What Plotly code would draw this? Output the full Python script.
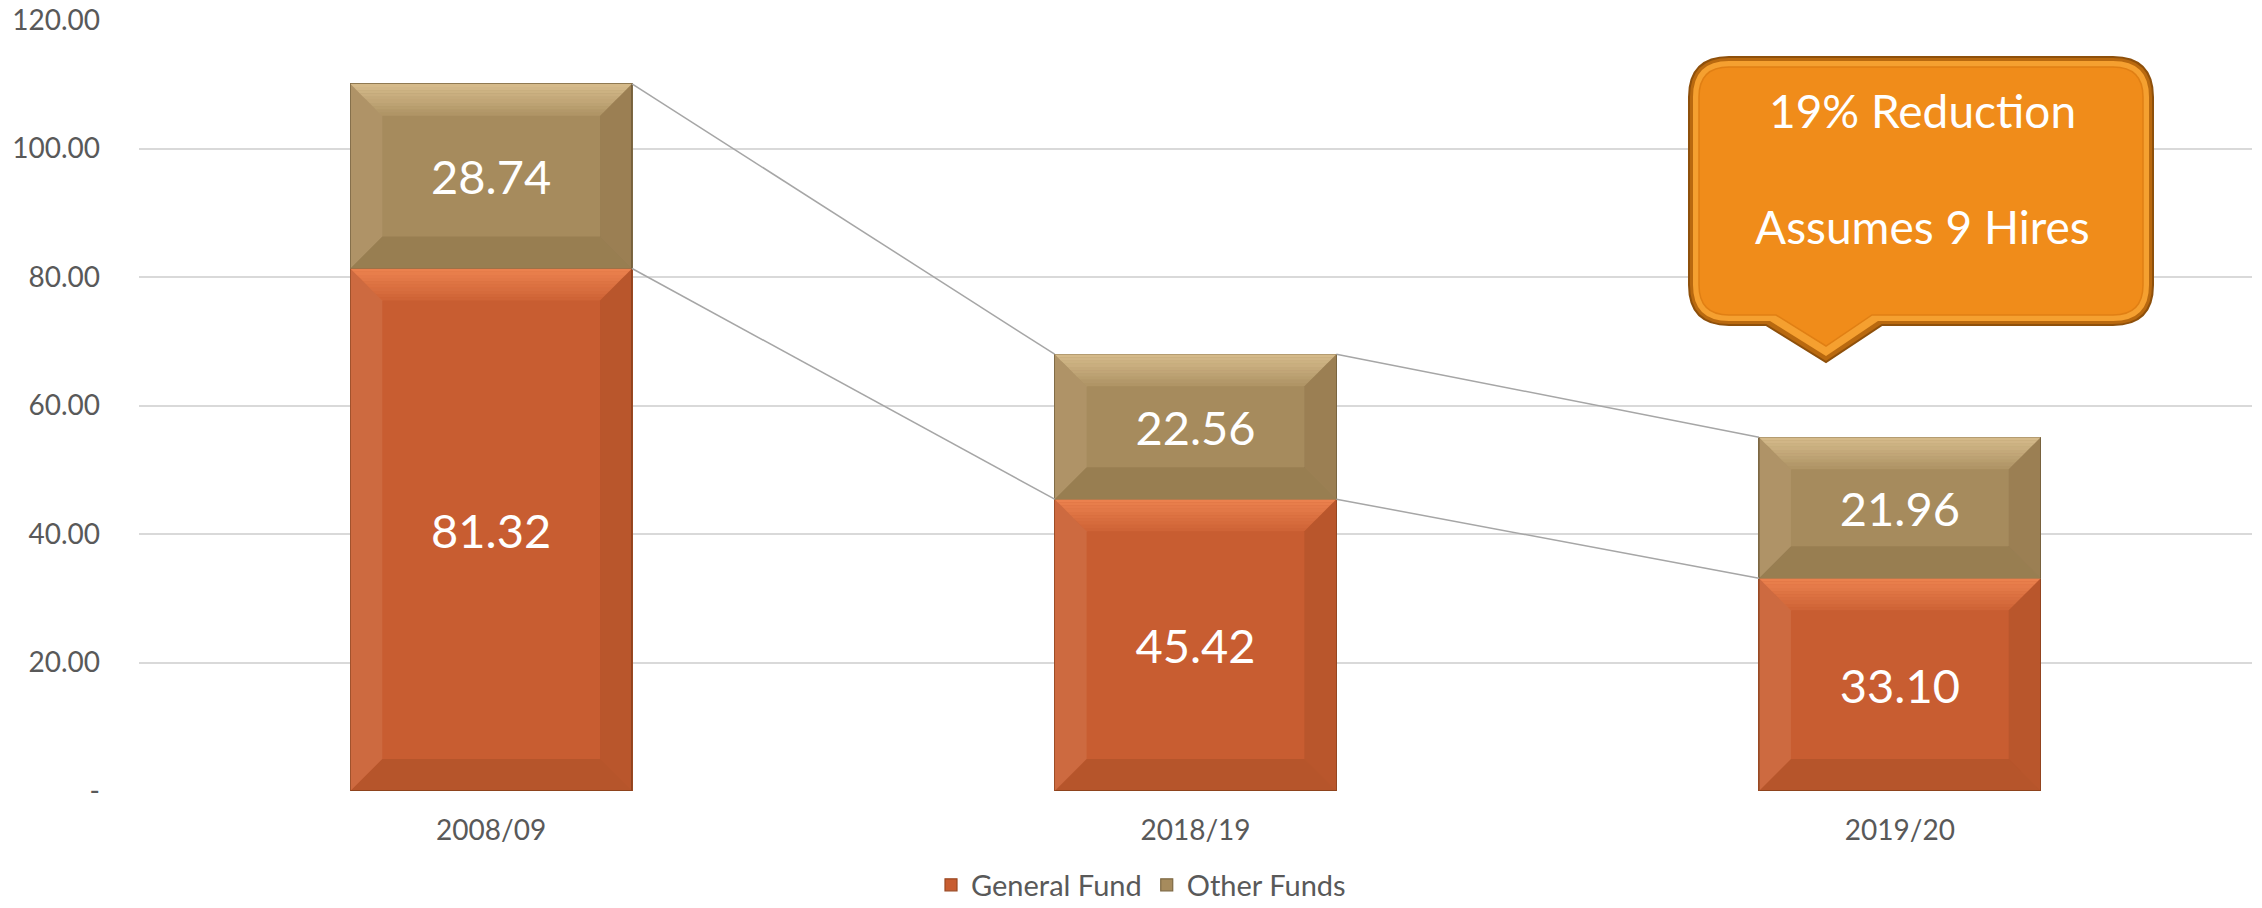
import plotly.graph_objects as go

# ---- data ----
categories = ["2008/09", "2018/19", "2019/20"]
general_fund = [81.32, 45.42, 33.10]
other_funds = [28.74, 22.56, 21.96]
y_tick_values = [0, 20, 40, 60, 80, 100, 120]
y_tick_labels = ["-", "20.00", "40.00", "60.00", "80.00", "100.00", "120.00"]
callout_lines = ["19% Reduction", "Assumes 9 Hires"]
series_names = ["General Fund", "Other Funds"]

# ---- style ----
W, H = 2262, 908
ML, MR, MT, MB = 139, 10, 20, 117
FONT = "Lato"
GF_COLOR = "#C85D31"
OF_COLOR = "#A68B5D"
BAR_W = 0.4
TICK_SIZE = 28
LEGEND_SIZE = 29

x_idx = list(range(len(categories)))

fig = go.Figure()

fig.add_trace(go.Bar(
    x=x_idx, y=general_fund, name=series_names[0], width=BAR_W,
    marker=dict(color=GF_COLOR, line=dict(color="#9A4822", width=1.2)),
    text=[f"{v:.2f}" for v in general_fund], textposition="inside",
    insidetextanchor="middle",
    textfont=dict(color="white", size=47, family=FONT),
    hoverinfo="skip",
))
fig.add_trace(go.Bar(
    x=x_idx, y=other_funds, name=series_names[1], width=BAR_W,
    marker=dict(color=OF_COLOR, line=dict(color="#7D6843", width=1.2)),
    text=[f"{v:.2f}" for v in other_funds], textposition="inside",
    insidetextanchor="middle",
    textfont=dict(color="white", size=47, family=FONT),
    hoverinfo="skip",
))

# series lines (connect stack tops between adjacent bars)
totals = [g + o for g, o in zip(general_fund, other_funds)]
for level in (general_fund, totals):
    for i in range(len(categories) - 1):
        fig.add_trace(go.Scatter(
            x=[x_idx[i] + BAR_W / 2, x_idx[i + 1] - BAR_W / 2],
            y=[level[i], level[i + 1]],
            mode="lines", line=dict(color="#A6A6A6", width=1.5),
            showlegend=False, hoverinfo="skip",
        ))

# bevel overlays on each bar segment
plot_w = W - ML - MR
plot_h = H - MT - MB
px_per_x = plot_w / 3.0
px_per_y = plot_h / 120.0
dx = 32 / px_per_x
dy = 32 / px_per_y

shapes = []


def poly(pts, color):
    path = "M " + " L ".join(f"{x},{y}" for x, y in pts) + " Z"
    return dict(type="path", path=path, xref="x", yref="y",
                fillcolor=color, line=dict(width=0), layer="above")


top_rgb = {0: "255,150,95", 1: "240,214,165"}
for i in x_idx:
    segs = [(0, general_fund[i], 0), (general_fund[i], totals[i], 1)]
    for (y0, y1, s) in segs:
        x0, x1 = i - BAR_W / 2, i + BAR_W / 2
        # top bevel with gradient (bands from outer edge inward)
        nb = 10
        for k in range(nb):
            f0, f1 = k / nb, (k + 1) / nb
            alpha = 0.55 * (1 - k / nb) + 0.08
            shapes.append(poly([(x0 + dx * f0, y1 - dy * f0), (x1 - dx * f0, y1 - dy * f0),
                                (x1 - dx * f1, y1 - dy * f1), (x0 + dx * f1, y1 - dy * f1)],
                               f"rgba({top_rgb[s]},{alpha:.2f})"))
        # left
        shapes.append(poly([(x0, y1), (x0 + dx, y1 - dy), (x0 + dx, y0 + dy), (x0, y0)],
                           "rgba(255,230,200,0.10)"))
        # right
        shapes.append(poly([(x1, y1), (x1 - dx, y1 - dy), (x1 - dx, y0 + dy), (x1, y0)],
                           "rgba(60,30,0,0.10)"))
        # bottom
        shapes.append(poly([(x0, y0), (x1, y0), (x1 - dx, y0 + dy), (x0 + dx, y0 + dy)],
                           "rgba(60,30,0,0.12)"))


# ---- callout (pixel -> paper helpers) ----
def px(X):
    return (X - ML) / plot_w


def py(Y):
    return (H - MB - Y) / plot_h


def callout_path(l, t, r, b, rad, base_l, base_r, tip_x, tip_y):
    pts = [
        f"M {px(l + rad)},{py(t)}",
        f"L {px(r - rad)},{py(t)}",
        f"Q {px(r)},{py(t)} {px(r)},{py(t + rad)}",
        f"L {px(r)},{py(b - rad)}",
        f"Q {px(r)},{py(b)} {px(r - rad)},{py(b)}",
        f"L {px(base_r)},{py(b)}",
        f"L {px(tip_x)},{py(tip_y)}",
        f"L {px(base_l)},{py(b)}",
        f"L {px(l + rad)},{py(b)}",
        f"Q {px(l)},{py(b)} {px(l)},{py(b - rad)}",
        f"L {px(l)},{py(t + rad)}",
        f"Q {px(l)},{py(t)} {px(l + rad)},{py(t)}",
        "Z",
    ]
    return " ".join(pts)


L0, T0, R0, B0 = 1689, 57, 2153, 325
shapes.append(dict(type="path", xref="paper", yref="paper",
                   path=callout_path(L0, T0, R0, B0, 40, 1766, 1882, 1826, 362),
                   fillcolor="#B9690F", line=dict(color="#8E500B", width=2), layer="above"))
shapes.append(dict(type="path", xref="paper", yref="paper",
                   path=callout_path(L0 + 4, T0 + 4, R0 - 4, B0 - 4, 36, 1770, 1878, 1826, 356),
                   fillcolor="#F5A030", line=dict(width=0), layer="above"))
shapes.append(dict(type="path", xref="paper", yref="paper",
                   path=callout_path(L0 + 10, T0 + 10, R0 - 10, B0 - 10, 30, 1776, 1872, 1826, 346),
                   fillcolor="#F08C1A", line=dict(color="#E07F14", width=1.5), layer="above"))

annotations = []
for txt, yc in zip(callout_lines, (110, 226)):
    annotations.append(dict(
        text=txt, x=px(1922), y=py(yc), xref="paper", yref="paper",
        xanchor="center", yanchor="middle", showarrow=False,
        font=dict(color="white", size=46, family=FONT),
    ))

fig.update_layout(
    width=W, height=H,
    margin=dict(l=ML, r=MR, t=MT, b=MB, autoexpand=False),
    barmode="stack",
    paper_bgcolor="white", plot_bgcolor="white",
    font=dict(family=FONT, color="#595959", size=TICK_SIZE),
    xaxis=dict(range=[-0.5, 2.5], tickvals=x_idx, ticktext=categories,
               showgrid=False, zeroline=False, showline=False, ticks="",
               ticklabelstandoff=20, automargin=False,
               tickfont=dict(size=TICK_SIZE, color="#595959", family=FONT)),
    yaxis=dict(range=[0, 120], tickvals=y_tick_values, ticktext=y_tick_labels,
               showgrid=True, gridcolor="#D9D9D9", gridwidth=1.5,
               zeroline=False, showline=False, ticks="",
               ticklabelstandoff=38, automargin=False,
               tickfont=dict(size=TICK_SIZE, color="#595959", family=FONT)),
    legend=dict(orientation="h", x=px(1141), y=py(885), xanchor="center",
                yanchor="middle", font=dict(size=LEGEND_SIZE, color="#595959", family=FONT),
                traceorder="normal"),
    shapes=shapes,
    annotations=annotations,
    showlegend=True,
)

fig.write_html(
    "out.html",
    config={"displayModeBar": False},
    post_script="document.body.style.margin='0px';document.body.style.overflow='hidden';",
)
